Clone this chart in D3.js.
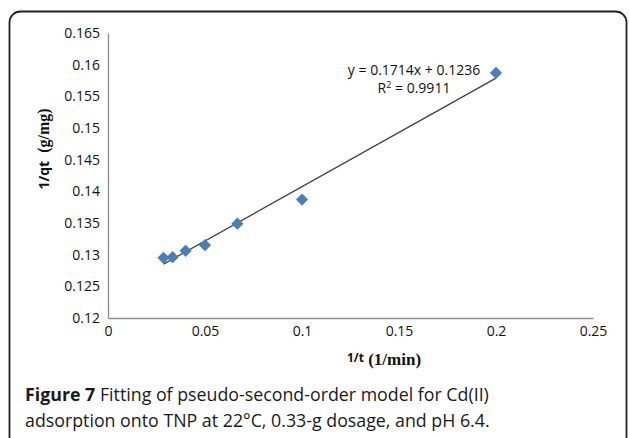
<!DOCTYPE html>
<html>
<head>
<meta charset="utf-8">
<script src="https://cdn.jsdelivr.net/npm/d3@7"></script>
<style>
  body { margin: 0; background: #fff; }
  svg { display: block; }
</style>
</head>
<body>
<svg id="chart" width="629" height="438"></svg>
<script>
// data: x = 1/t (1/min), y = 1/qt (g/mg)
const invT = [0.0286, 0.0333, 0.04, 0.05, 0.0667, 0.1, 0.2];
const invQt = [0.1295, 0.1296, 0.1306, 0.1315, 0.1349, 0.1387, 0.1587];
const xTicks = [0, 0.05, 0.1, 0.15, 0.2, 0.25];
const yTicks = [0.12, 0.125, 0.13, 0.135, 0.14, 0.145, 0.15, 0.155, 0.16, 0.165];
const slope = 0.1714;
const intercept = 0.1236;
const eqLabel = "y = 0.1714x + 0.1236";
const r2Value = "0.9911";

const svg = d3.select("#chart");

// frame around figure + caption
svg.append("rect")
  .attr("x", 9.5).attr("y", 11.5)
  .attr("width", 617).attr("height", 460)
  .attr("rx", 11)
  .attr("fill", "none")
  .attr("stroke", "#222")
  .attr("stroke-width", 1.8);

const x = d3.scaleLinear().domain([0, 0.25]).range([108, 593]);
const y = d3.scaleLinear().domain([0.12, 0.165]).range([318, 33]);

const font = "'Open Sans', 'DejaVu Sans', sans-serif";

// axes
const xAxis = svg.append("g")
  .attr("transform", `translate(0,${y(0.12)})`)
  .call(d3.axisBottom(x).tickValues(xTicks).tickSize(0).tickPadding(8)
    .tickFormat(d => d3.format("~g")(d)));
const yAxis = svg.append("g")
  .attr("transform", `translate(${x(0)},0)`)
  .call(d3.axisLeft(y).tickValues(yTicks).tickSize(0).tickPadding(8)
    .tickFormat(d => d3.format("~g")(d)));

[xAxis, yAxis].forEach(g => {
  g.select(".domain").attr("stroke", "#8c8c8c").attr("stroke-width", 1.3);
  g.selectAll("text")
    .attr("fill", "#111")
    .style("font-family", font)
    .style("font-size", "14px");
});

// trendline
const xs = d3.extent(invT);
svg.append("line")
  .attr("x1", x(xs[0])).attr("y1", y(slope * xs[0] + intercept))
  .attr("x2", x(xs[1])).attr("y2", y(slope * xs[1] + intercept))
  .attr("stroke", "#404040")
  .attr("stroke-width", 1.3);

// diamond markers
const diamond = d3.symbol().type(d3.symbolDiamond2).size(95);
svg.selectAll(".pt")
  .data(invT.map((d, i) => ({ x: d, y: invQt[i] })))
  .enter()
  .append("path")
  .attr("class", "pt")
  .attr("d", diamond)
  .attr("transform", d => `translate(${x(d.x)},${y(d.y)})`)
  .attr("fill", "#4a7ebb");

// equation
svg.append("text")
  .attr("x", 414).attr("y", 75)
  .attr("text-anchor", "middle")
  .style("font-family", font).style("font-size", "14px")
  .attr("fill", "#111")
  .text(eqLabel);
const r2 = svg.append("text")
  .attr("x", 414).attr("y", 93)
  .attr("text-anchor", "middle")
  .style("font-family", font).style("font-size", "14px")
  .attr("fill", "#111");
r2.append("tspan").text("R");
r2.append("tspan").attr("dy", -5).style("font-size", "9px").text("2");
r2.append("tspan").attr("dy", 5).text(" = " + r2Value);

// axis titles
const yTitle = svg.append("text")
  .attr("transform", "translate(49,149) rotate(-90)")
  .attr("text-anchor", "middle")
  .attr("fill", "#111");
yTitle.append("tspan")
  .style("font-family", font).style("font-weight", "bold").style("font-size", "14px")
  .text("1/qt");
yTitle.append("tspan")
  .style("font-family", "'Liberation Serif', serif").style("font-weight", "bold").style("font-size", "16px")
  .text("\u00a0\u00a0(g/mg)");

const xTitle = svg.append("text")
  .attr("x", 384).attr("y", 365)
  .attr("text-anchor", "middle")
  .attr("fill", "#111");
xTitle.append("tspan")
  .attr("dy", -3)
  .style("font-family", font).style("font-weight", "bold").style("font-size", "12px")
  .text("1/t");
xTitle.append("tspan")
  .attr("dy", 3)
  .style("font-family", "'Liberation Serif', serif").style("font-weight", "bold").style("font-size", "17px")
  .text("\u00a0(1/min)");

// caption
const cap = svg.append("g")
  .style("font-family", font)
  .style("font-size", "17.8px")
  .attr("fill", "#1a1a1a");
const line1 = cap.append("text").attr("x", 25).attr("y", 401);
line1.append("tspan").style("font-weight", "bold").text("Figure 7");
line1.append("tspan").text(" Fitting of pseudo-second-order model for Cd(II)");
cap.append("text").attr("x", 25).attr("y", 427)
  .text("adsorption onto TNP at 22°C, 0.33-g dosage, and pH 6.4.");
</script>
</body>
</html>
